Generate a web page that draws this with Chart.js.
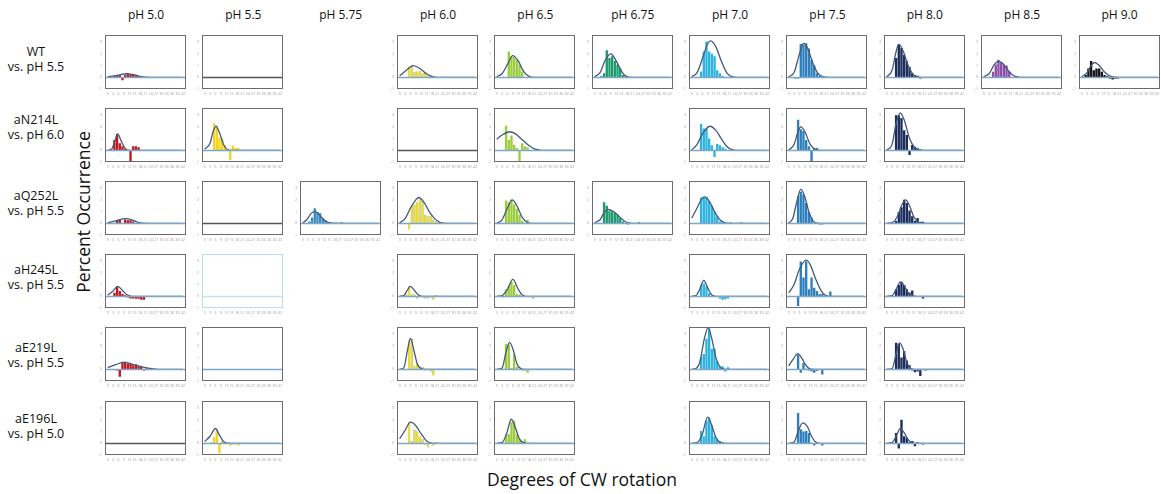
<!DOCTYPE html>
<html>
<head>
<meta charset="utf-8">
<script src="https://cdn.jsdelivr.net/npm/chart.js@4.4.1/dist/chart.umd.min.js"></script>
<style>
  body { margin: 0; background: #fff; width: 1161px; height: 494px; position: relative; overflow: hidden;
         font-family: 'Open Sans', 'Noto Sans', sans-serif; color: #111; }
  .panel { position: absolute; }
  .txt { position: absolute; transform: translate(-50%, -50%); white-space: nowrap; }
  .hdr { font-size: 12px; }
  .row { font-size: 12.5px; }
  .axis { font-size: 17.5px; }
</style>
</head>
<body>
<script>
// column headings and colours
const phLabels = ['pH 5.0', 'pH 5.5', 'pH 5.75', 'pH 6.0', 'pH 6.5', 'pH 6.75', 'pH 7.0', 'pH 7.5', 'pH 8.0', 'pH 8.5', 'pH 9.0'];
const phColors = ['#c3161d', '#f3d423', '#3a8cc4', '#ece024', '#9ccd3e', '#1e9b6d', '#2db3de', '#2e80bc', '#1c2d5c', '#8d4fa8', '#151515'];

const rowNames = ['WT', 'aN214L', 'aQ252L', 'aH245L', 'aE219L', 'aE196L'];
const rowRefs = ['vs. pH 5.5', 'vs. pH 6.0', 'vs. pH 5.5', 'vs. pH 5.5', 'vs. pH 5.5', 'vs. pH 5.0'];

const xTickLabels = ['0', '3', '6', '9', '12', '15', '18', '21', '24', '27', '30', '33', '36', '39', '42'];
const yTickLabels = ['-1', '0', '1', '2', '3'];

// bars: one value per bin from bin 0; [] = empty panel, null = no panel
const wtBars = [
  [0, 0, 0.1, 0.15, 0.2, -0.25, 0.2, 0.3, 0.2, 0.25, 0.15, 0.1],
  [],
  null,
  [0, 0, 0, 0.85, 1.0, 0.45, 0.5, 0.55, 0.35, 0.45, 0.2, 0.1, 0.05, 0, -0.05, 0.05, 0.05],
  [0, 0, 0, 0, 2.2, 1.8, 1.7, 1.5, 1.1, 0.5, 0, 0, 0, 0, 0.03, 0, 0.03],
  [0, 0, 0.1, 0.35, 2.3, 1.65, 1.8, 1.4, 1.1, 0.75, 0.2, 0.15, 0, 0, 0, 0.03, 0, 0.03],
  [0, 0, 0, 0.5, 2.2, 3.05, 2.2, 2.0, 1.8, 0.6, 0.35, 0.1, 0, 0, 0, 0.02, 0, 0, 0, 0.02],
  [0, 0, -0.1, -0.1, 2.85, 2.8, 2.9, 2.45, 1.5, 1.0, 0.35, 0.1, 0, 0, 0, 0.03, 0.03],
  [0, 0, 0, 1.65, 2.8, 2.5, 1.9, 1.4, 0.87, 0.35, 0.2, 0.13, -0.1, 0.03, 0, 0.03],
  [0, 0, 0, 0.47, 1.1, 1.5, 1.25, 1.1, 1.0, 0.47, 0, 0, -0.05, -0.05],
  [0, 0.2, 0.75, 1.4, 0.6, 0.75, 0.75, 0.47, 0.2, 0.08, -0.1, -0.18, -0.13, -0.1, -0.05]
];
const wtCurve = [
  [[0, 0.05], [3, 0.15], [7, 0.3], [10, 0.2], [13, 0.03], [16, 0], [28, 0]],
  [],
  null,
  [[0, 0.13], [2.5, 0.6], [5, 1.0], [7.5, 0.75], [10, 0.3], [12, 0.08], [14, 0], [28, 0]],
  [[0, 0.05], [2, 0.3], [4, 1.1], [6, 1.85], [8, 1.4], [10, 0.5], [12, 0.08], [14, 0], [28, 0]],
  [[0, 0.05], [2, 0.4], [4, 1.5], [6, 2.0], [8, 1.4], [10, 0.5], [12, 0.05], [14, 0], [28, 0]],
  [[0, 0.05], [2, 0.4], [4, 1.6], [6, 2.9], [7, 3.1], [9, 2.6], [11, 1.4], [13, 0.4], [15, 0.05], [17, 0], [28, 0]],
  [[0, 0.05], [2, 0.4], [4, 2.0], [5.5, 2.9], [7, 2.5], [9, 1.2], [11, 0.3], [13, 0.03], [15, 0], [28, 0]],
  [[0, 0.03], [2, 0.6], [3.5, 2.2], [4.5, 2.8], [6, 2.3], [8, 1.0], [10, 0.2], [12, 0.02], [14, 0], [28, 0]],
  [[0, 0.05], [2, 0.3], [4, 1.1], [5.5, 1.35], [7, 1.2], [9, 0.6], [11, 0.15], [13, 0.02], [15, 0], [28, 0]],
  [[0, 0.05], [2, 0.4], [3.5, 1.0], [4.8, 1.26], [6.5, 1.0], [8.5, 0.45], [10.5, 0.1], [12.5, 0.01], [14, 0], [28, 0]]
];

const n214Bars = [
  [0, 0, 0.87, 1.4, 0.6, 0.35, 0.1, 0, -0.97, 0.35, 0.35, 0.26],
  [0, 0, 0, 2.3, 1.9, 1.1, 1.0, 0.45, 0, -0.85, 0.4, 0.2, 0.2],
  null,
  [],
  [0, 0, 0, 2.1, 0.87, 1.26, 0.47, 0.2, -0.97, 0.6, 0.35, 0.26],
  null,
  [0, 0, 0, 2.25, 1.85, 1.85, 1.0, 0.42, -0.58, 0.53, 0.42, 0.26, 0.13],
  [0, 0.03, 0, 2.6, 1.8, 1.65, 0.87, 0.35, -1.0, 0.2, 0.2],
  [0, 0, 0, 3.0, 3.0, 2.75, 1.7, 1.3, -0.4, 0.45, 0.3, 0.18, 0.08, 0, 0.03],
  null,
  null
];
const n214Curve = [
  [[0, 0], [1.5, 0.1], [2.5, 0.7], [3.75, 1.4], [5, 0.8], [6.5, 0.15], [8, 0], [28, 0]],
  [[0, 0.1], [2, 0.6], [3, 1.5], [4.2, 2.05], [5.5, 1.5], [7, 0.5], [8.5, 0.05], [10, 0], [28, 0]],
  null,
  [],
  [[0, 0.95], [2, 1.3], [4.8, 1.58], [7, 1.4], [9.5, 0.9], [12, 0.4], [14, 0.12], [16, 0.02], [18, 0], [28, 0]],
  null,
  [[0, 0.05], [2, 0.5], [4, 1.4], [6.8, 2.05], [9, 1.7], [11, 1.0], [13, 0.35], [15, 0.05], [17, 0], [28, 0]],
  [[0, 0.02], [2, 0.5], [3.5, 1.6], [4.5, 2.0], [6, 1.6], [8, 0.5], [10, 0.05], [12, 0], [28, 0]],
  [[0, 0], [2, 0.5], [3.5, 2.3], [5, 3.2], [6.5, 2.6], [8.5, 1.0], [10.5, 0.2], [12, 0.02], [14, 0], [28, 0]],
  null,
  null
];

const q252Bars = [
  [0, 0, 0, 0.2, 0.33, -0.05, 0.33, 0.26, 0.26, 0.15, -0.05, 0, 0, 0, 0.02, 0.02],
  [],
  [0, 0, 0.15, 0.5, 1.28, 0.97, 0.85, 0.46, 0.26, 0, 0.05, 0, 0.05, 0, 0.08],
  [0, 0, 0, -0.5, 1.5, 1.6, 1.8, 2.05, 1.87, 0.72, 0.6, 0.67, 0.33, 0.15, 0.13, -0.05, 0.08],
  [0, 0.05, 0, 1.95, 1.8, 2.0, 1.6, 1.23, 0.72, 0.2, 0, 0.28],
  [0, 0, 0, 1.8, 1.5, 1.1, 1.03, 0.92, 0.72, 0.46, 0.15, -0.05, -0.1, 0, 0, 0, 0.08],
  [0, 0, 0, 2.2, 2.2, 2.25, 1.87, 1.5, 1.0, 0.6, 0.15, 0.08, 0, 0, 0.08, 0, 0, 0, 0.08],
  [0, 0, 0, 2.3, 2.7, 2.46, 1.74, 0.97, 0.5, 0, 0, -0.1, -0.1, 0, 0, -0.05],
  [0, 0, 0, 0.2, 0.97, 1.36, 2.0, 1.74, 1.1, 0.6, 0.2, 0.46, 0.13, 0.13, 0, 0, 0, 0, 0, 0.03],
  null,
  null
];
const q252Curve = [
  [[0, 0.05], [3, 0.2], [6.5, 0.4], [9, 0.3], [11, 0.1], [13, 0.01], [15, 0], [28, 0]],
  [],
  [[0, 0.02], [1.5, 0.3], [3, 0.8], [4.3, 1.0], [5.5, 0.9], [7, 0.5], [9, 0.12], [11, 0.01], [13, 0], [28, 0]],
  [[0, 0.05], [2, 0.4], [4, 1.3], [6, 2.0], [7, 2.2], [9, 1.8], [11, 1.0], [13, 0.4], [15, 0.08], [17, 0], [28, 0]],
  [[0, 0.02], [2, 0.3], [4, 1.3], [5.75, 2.0], [7.5, 1.5], [9.5, 0.5], [11.5, 0.05], [13, 0], [28, 0]],
  [[0, 0.05], [2, 0.3], [3.5, 0.9], [5, 1.18], [7, 1.0], [9, 0.6], [11, 0.2], [12.5, 0.03], [14, 0], [28, 0]],
  [[0, 0.45], [2, 1.3], [3.5, 2.0], [4.8, 2.25], [6.5, 1.9], [8.5, 1.0], [10.5, 0.3], [12.5, 0.03], [14, 0], [28, 0]],
  [[0, 0.02], [1.5, 0.4], [3, 1.8], [4.5, 2.9], [5.8, 2.4], [7.5, 1.0], [9, 0.2], [10.5, 0.02], [12, 0], [28, 0]],
  [[0, 0], [2, 0.05], [4, 0.6], [5.5, 1.5], [7, 2.0], [8.5, 1.5], [10, 0.6], [11.5, 0.1], [13, 0], [28, 0]],
  null,
  null
];

const h245Bars = [
  [0, 0, 0.3, 0.85, 0.46, 0.2, 0.08, -0.1, -0.18, -0.18, -0.2, -0.2, -0.3, -0.3],
  [],
  null,
  [0, 0, 0.15, 0.85, 0.15, 0.15, -0.18, -0.05, -0.1, -0.18, -0.18, -0.1, -0.3, 0.08, 0, -0.05],
  [0, 0, -0.1, 0.6, 0.85, 1.23, 0.97, 0.2, 0.15, 0, 0, 0, 0, -0.18, 0.05],
  null,
  [0, 0, 0, 0.97, 1.1, 0.85, 0.26, 0, 0, 0, -0.18, -0.3, -0.26, -0.18],
  [0, 0, 0, -0.82, 2.97, 1.6, 2.97, 0.6, 1.6, 0.72, 0.46, 0.2, 0.2, 0, 0, 0.4],
  [0, 0, 0, 0.6, 0.97, 1.23, 0.97, 0.6, 0.33, 0.5, 0.05, 0, 0, -0.18],
  null,
  null
];
const h245Curve = [
  [[0, 0.1], [2, 0.45], [3.8, 0.85], [5.5, 0.5], [7, 0.15], [8.5, 0.02], [10, 0], [28, 0]],
  [],
  null,
  [[0, 0], [1.5, 0.05], [2.8, 0.5], [4, 0.85], [5.5, 0.5], [7, 0.1], [8.5, 0], [28, 0]],
  [[0, 0], [2, 0.05], [4, 0.6], [6, 1.44], [8, 0.6], [9.5, 0.1], [11, 0], [28, 0]],
  null,
  [[0, 0], [1.5, 0.05], [3, 0.6], [4.5, 1.36], [6, 0.7], [7.5, 0.1], [9, 0], [28, 0]],
  [[0, 0.3], [2, 1.0], [4, 2.3], [6.5, 3.08], [8, 2.7], [10, 1.5], [12, 0.5], [13.5, 0.1], [15, 0], [28, 0]],
  [[0, 0], [2, 0.05], [3.5, 0.6], [5.1, 1.23], [6.5, 0.9], [8, 0.3], [9.5, 0.03], [11, 0], [28, 0]],
  null,
  null
];

const e219Bars = [
  [0, 0, 0, -0.1, -0.63, 0.6, 0.53, 0.47, 0.47, 0.34, 0.42, 0.26, 0.2, -0.1, 0.08, 0.05, 0.05],
  [],
  null,
  [0, 0, 0, 2.45, 2.58, 0.3, 0.47, 0.08, 0.2, -0.1, -0.08, -0.18, -0.53, 0, 0.05, -0.05],
  [0, 0, 0, 2.18, 2.1, 0.1, 1.26, 0.2, 0, -0.1, -0.1, -0.3],
  null,
  [0, 0, 0, 1.05, 1.3, 2.6, 3.5, 1.76, 1.76, 0.66, 0.26, 0.26, -0.18, 0.18],
  [0, 0, 0, 1.26, -0.3, 0.53, 0.05, -0.1, -0.18, -0.3, -0.15, 0, -0.45],
  [0, 0, 0, 2.26, 2.18, 1.0, 1.53, 0.74, 0.34, -0.1, -0.26, -0.18, -0.58, 0, -0.1],
  null,
  null
];
const e219Curve = [
  [[0, 0.15], [3, 0.4], [6, 0.6], [9, 0.45], [12, 0.25], [15, 0.1], [18, 0.02], [20, 0], [28, 0]],
  [],
  null,
  [[0, 0], [1.5, 0.1], [2.8, 1.5], [4, 2.63], [5.3, 1.6], [6.5, 0.5], [8, 0.05], [9.5, 0], [28, 0]],
  [[0, 0], [2, 0.1], [3.5, 1.5], [4.8, 2.3], [6.2, 1.6], [7.5, 0.5], [9, 0.05], [10.5, 0], [28, 0]],
  null,
  [[0, 0], [1.5, 0.05], [3, 0.6], [4.7, 2.6], [6.1, 3.55], [7.5, 2.6], [9, 1.0], [10.5, 0.2], [12, 0.02], [13.5, 0], [28, 0]],
  [[0, 0.3], [1.5, 0.8], [3.4, 1.34], [5, 0.9], [6.5, 0.3], [8, 0.03], [9.5, 0], [28, 0]],
  [[0, 0], [2, 0.05], [3.5, 1.3], [4.8, 2.26], [6, 1.8], [7.5, 0.6], [9, 0.05], [10.5, 0], [28, 0]],
  null,
  null
];

const e196Bars = [
  [],
  [0, 0, 0.1, 0.52, 1.2, -0.84, 0.2, 0, 0, -0.18, -0.1, 0, -0.18, 0.05],
  null,
  [0, 0, 0, 1.8, 0.2, 1.13, 1.0, 0.6, 0.34, -0.1, -0.37, 0.05, -0.18, 0.08, 0.05],
  [0, 0, 0, 0.74, 0.8, 1.8, 1.92, 0.74, 0.34, 0.2, 0.34, 0.05, 0, 0.05, 0.05],
  null,
  [0, 0, 0, 1.05, 0.6, 1.92, 2.2, 1.53, 0.6, 0.34, 0.2, 0.1, 0.05],
  [0, 0, 0, 2.58, 1.2, 1.0, 1.05, 0.87, 0.05, -0.18, 0, 0, -0.18, 0, 0, 0.03],
  [0, 0, 0, 0.87, -0.45, 2.0, 0.6, 0.47, 0.08, 0.2, -0.26, 0.08, -0.05, -0.1],
  null,
  null
];
const e196Curve = [
  [],
  [[0, 0.15], [2, 0.6], [4, 1.26], [5.5, 0.7], [7, 0.15], [8.5, 0.01], [10, 0], [28, 0]],
  null,
  [[0, 0.4], [2, 1.1], [4, 1.8], [6, 1.5], [8, 0.8], [10, 0.2], [12, 0.02], [13.5, 0], [28, 0]],
  [[0, 0], [2, 0.05], [3.8, 0.9], [5.4, 2.05], [7, 1.3], [8.5, 0.35], [10, 0.05], [11.5, 0], [28, 0]],
  null,
  [[0, 0], [2, 0.05], [4, 0.8], [5.9, 2.24], [7.5, 1.5], [9, 0.5], [10.5, 0.08], [12, 0], [28, 0]],
  [[0, 0], [2, 0.1], [3.5, 1.0], [5.2, 1.74], [7, 1.4], [8.5, 0.6], [10, 0.1], [11.5, 0], [28, 0]],
  [[0, 0], [2, 0.05], [3.5, 0.6], [5.1, 1.26], [6.5, 0.9], [8, 0.3], [9.5, 0.03], [11, 0], [28, 0]],
  null,
  null
];

const allBars = [wtBars, n214Bars, q252Bars, h245Bars, e219Bars, e196Bars];
const allCurves = [wtCurve, n214Curve, q252Curve, h245Curve, e219Curve, e196Curve];

// layout
const BOX_W = 82, BOX_H = 58, Y_AXIS_W = 9, X_AXIS_H = 10;
const colLeft = c => 105 + 97.35 * c;
const rowTop = r => 31 + 73.1 * r;
const rowLabelY = [51, 119, 195, 269, 347, 418];
// line colour of the empty panels, per row
const emptyLine = ['#555', '#555', '#555', '#c4e2ec', '#7fa7c9', '#555'];

Chart.defaults.font.family = "'Open Sans', sans-serif";

const panelDeco = {
  id: 'panelDeco',
  afterDatasetsDraw(chart, args, opts) {
    const { ctx, chartArea: a, scales: { y } } = chart;
    const y0 = Math.round(y.getPixelForValue(0)) + 0.5;
    ctx.save();
    ctx.strokeStyle = opts.baseColor;
    ctx.lineWidth = opts.baseWidth;
    ctx.beginPath();
    ctx.moveTo(a.left, y0);
    ctx.lineTo(a.right, y0);
    ctx.stroke();
    ctx.strokeStyle = opts.frameColor;
    ctx.lineWidth = 1;
    ctx.strokeRect(Math.round(a.left) + 0.5, Math.round(a.top) + 0.5,
                   Math.round(a.right - a.left) - 1, Math.round(a.bottom - a.top) - 1);
    ctx.restore();
  }
};

function addText(cls, txt, x, y) {
  const d = document.createElement('div');
  d.className = 'txt ' + cls;
  d.textContent = txt;
  d.style.left = x + 'px';
  d.style.top = y + 'px';
  document.body.appendChild(d);
  return d;
}

phLabels.forEach((t, c) => addText('hdr', t, colLeft(c) + BOX_W / 2, 14));
rowNames.forEach((t, r) => {
  addText('row', t, 36, rowLabelY[r]);
  addText('row', rowRefs[r], 36, rowLabelY[r] + 15);
});
const yl = addText('axis', 'Percent Occurrence', 83, 212);
yl.style.transform = 'translate(-50%, -50%) rotate(-90deg)';
addText('axis', 'Degrees of CW rotation', 582, 479);

function drawPanel(r, c) {
  const bars = allBars[r][c];
  const curve = allCurves[r][c];
  if (bars === null) return;
  const empty = bars.length === 0;

  const cv = document.createElement('canvas');
  cv.className = 'panel';
  cv.width = Y_AXIS_W + BOX_W + 1;
  cv.height = BOX_H + X_AXIS_H + 1;
  cv.style.left = Math.round(colLeft(c) - Y_AXIS_W) + 'px';
  cv.style.top = Math.round(rowTop(r) - 1) + 'px';
  document.body.appendChild(cv);

  const datasets = [];
  if (!empty) {
    datasets.push({
      type: 'line',
      data: curve.map(p => ({ x: p[0], y: p[1] })),
      borderColor: '#44597c',
      borderWidth: 1.3,
      pointRadius: 0,
      cubicInterpolationMode: 'monotone',
      fill: false,
      order: 1
    });
    datasets.push({
      type: 'bar',
      data: bars.map((v, i) => ({ x: i + 0.5, y: v })),
      backgroundColor: phColors[c],
      borderColor: c === 3 ? '#5a5420' : phColors[c],
      borderWidth: c === 3 ? 0.35 : 0,
      barPercentage: 0.88,
      categoryPercentage: 1,
      order: 2
    });
  }

  new Chart(cv, {
    type: 'bar',
    data: { datasets },
    options: {
      responsive: false,
      animation: false,
      events: [],
      layout: { padding: { left: 0, right: 1, top: 1, bottom: 0 } },
      plugins: {
        legend: { display: false },
        tooltip: { enabled: false },
        panelDeco: {
          baseColor: empty ? emptyLine[r] : '#7fa7c9',
          baseWidth: empty ? 1.4 : 1.5,
          frameColor: (r === 3 && empty) ? '#b9dde9' : '#6c6c6c'
        }
      },
      scales: {
        x: {
          type: 'linear', min: 0, max: 28,
          grid: { display: false, drawTicks: false }, border: { display: false },
          ticks: { stepSize: 2, autoSkip: false, maxRotation: 0, minRotation: 0, padding: 3,
                   font: { size: 3.5 }, color: '#9a9a9a',
                   callback: (v, i) => xTickLabels[i] },
          afterFit: s => { s.height = X_AXIS_H; }
        },
        y: {
          min: -1, max: 3.6,
          grid: { display: false, drawTicks: false }, border: { display: false },
          ticks: { stepSize: 1, includeBounds: false, autoSkip: false, padding: 3,
                   font: { size: 3.5 }, color: '#9a9a9a',
                   callback: (v, i) => yTickLabels[i] },
          afterFit: s => { s.width = Y_AXIS_W; }
        }
      }
    },
    plugins: [panelDeco]
  });
}

for (let r = 0; r < rowNames.length; r++) {
  for (let c = 0; c < phLabels.length; c++) drawPanel(r, c);
}
</script>
</body>
</html>
